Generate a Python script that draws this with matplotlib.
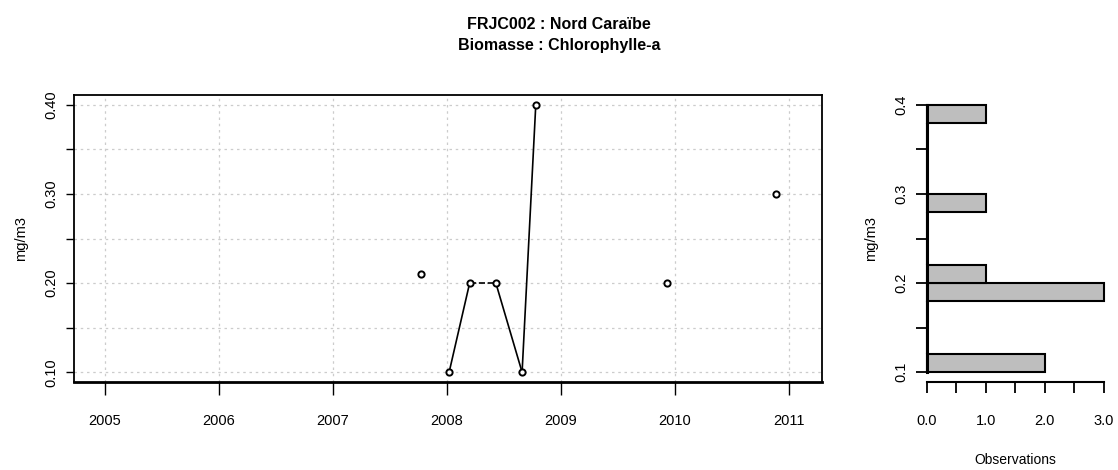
import numpy as np
import matplotlib
matplotlib.use("Agg")
import matplotlib.pyplot as plt

plt.rcParams['font.family'] = ['Liberation Sans Narrow', 'Liberation Sans', 'DejaVu Sans']

# sampling dates (decimal years) and chlorophyll-a values (mg/m3)
dates = [2007.77, 2008.02, 2008.20, 2008.43, 2008.66, 2008.78, 2009.93, 2010.89]
values = [0.21, 0.10, 0.20, 0.20, 0.10, 0.40, 0.20, 0.30]
# consecutive points joined by a line, and the style of each joining segment
joined = [1, 2, 3, 4, 5]
seg_styles = ['-', '--', '-', '-']

years = [2005, 2006, 2007, 2008, 2009, 2010, 2011]
yticks = [0.10, 0.15, 0.20, 0.25, 0.30, 0.35, 0.40]
ylabels = ['0.10', '', '0.20', '', '0.30', '', '0.40']

hist_ticks = [0.1, 0.15, 0.2, 0.25, 0.3, 0.35, 0.4]
hist_labels = ['0.1', '', '0.2', '', '0.3', '', '0.4']
obs_ticks = [0, 0.5, 1, 1.5, 2, 2.5, 3]
obs_labels = ['0.0', '', '1.0', '', '2.0', '', '3.0']

title = "FRJC002 : Nord Caraïbe\nBiomasse : Chlorophylle-a"
unit = "mg/m3"

fs = 10.5
fig = plt.figure(figsize=(11.18, 4.70), dpi=100)
ax = fig.add_axes([0.0662, 0.1872, 0.669, 0.6106])
ax.set_xlim(2004.73, 2011.29)
ax.set_ylim(0.089, 0.411)

grid_ls = (0, (2, 3))
for yr in years:
    ax.axvline(yr, color='#cccccc', lw=0.9, ls=grid_ls, zorder=0)
for yv in yticks:
    ax.axhline(yv, color='#cccccc', lw=0.9, ls=grid_ls, zorder=0)

for k in range(len(joined) - 1):
    i, j = joined[k], joined[k + 1]
    ax.plot([dates[i], dates[j]], [values[i], values[j]], color='black',
            lw=1.2, ls=seg_styles[k], zorder=2)
ax.plot(dates, values, 'o', ms=4.5, mfc='white', mec='black', mew=1.4, zorder=3)

ax.set_xticks(years)
ax.set_xticklabels([str(y) for y in years], fontsize=fs)
ax.set_yticks(yticks)
ax.set_yticklabels(ylabels, fontsize=fs, rotation=90, va='center')
ax.tick_params(axis='x', length=9, width=1, pad=14)
ax.tick_params(axis='y', length=6, width=1, pad=5)
for sp in ax.spines.values():
    sp.set_linewidth(1.3)
ax.spines['bottom'].set_linewidth(2)
ax.set_ylabel(unit, fontsize=fs, labelpad=12)

fig.text(0.5, 0.963, title, ha='center', va='top', fontsize=11.5,
         fontweight='bold', linespacing=1.45)

# histogram of the values, right-closed bins of width 0.02
edges = np.round(np.arange(0.10, 0.4001, 0.02), 2)
idx = np.clip(np.digitize(values, edges, right=True), 1, len(edges) - 1)
counts = np.bincount(idx - 1, minlength=len(edges) - 1)

hx = fig.add_axes([0.8289, 0.1872, 0.1586, 0.6106])
hx.set_xlim(0, 3)
hx.set_ylim(0.089, 0.411)
hx.barh(edges[:-1], counts, height=0.02, align='edge', color='#bebebe',
        edgecolor='black', lw=1.5, clip_on=False)
for s in ['top', 'right']:
    hx.spines[s].set_visible(False)
hx.spines['left'].set_bounds(0.1, 0.4)
hx.spines['left'].set_linewidth(2.2)
hx.spines['bottom'].set_bounds(0, 3)
hx.spines['bottom'].set_linewidth(1.5)
hx.set_yticks(hist_ticks)
hx.set_yticklabels(hist_labels, fontsize=fs, rotation=90, va='center')
hx.set_xticks(obs_ticks)
hx.set_xticklabels(obs_labels, fontsize=fs)
hx.tick_params(axis='y', length=8, width=1.3, pad=5)
hx.tick_params(axis='x', length=8, width=1.3, pad=15)
hx.set_xlabel("Observations", fontsize=10, labelpad=18)
hx.set_ylabel(unit, fontsize=fs, labelpad=12)

fig.savefig("out.png", dpi=100)
